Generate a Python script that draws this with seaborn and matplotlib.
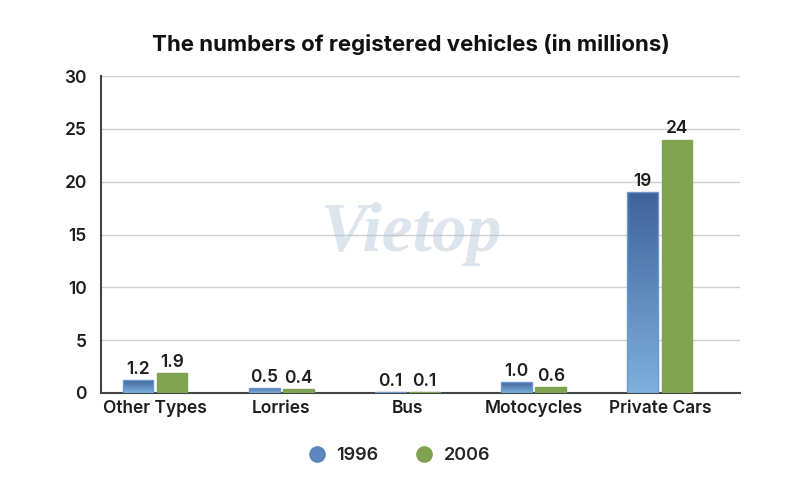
import matplotlib
matplotlib.use("Agg")
import matplotlib.pyplot as plt
import seaborn as sns
import numpy as np
import pandas as pd
from matplotlib.lines import Line2D
from matplotlib.colors import LinearSegmentedColormap

categories = ["Other Types", "Lorries", "Bus", "Motocycles", "Private Cars"]
years = ["1996", "2006"]
values_1996 = [1.2, 0.5, 0.1, 1.0, 19]
values_2006 = [1.9, 0.4, 0.1, 0.6, 24]
labels_1996 = ["1.2", "0.5", "0.1", "1.0", "19"]
labels_2006 = ["1.9", "0.4", "0.1", "0.6", "24"]
yticks = [0, 5, 10, 15, 20, 25, 30]
title = "The numbers of registered vehicles (in millions)"

df = pd.DataFrame({
    "category": categories * 2,
    "year": [years[0]] * len(categories) + [years[1]] * len(categories),
    "value": values_1996 + values_2006,
})

sns.set_theme(style="white")
plt.rcParams["font.family"] = ["Inter", "DejaVu Sans"]
W = "semibold"

blue_mid = "#5B86BE"
green = "#80A352"
fig = plt.figure(figsize=(8, 4.98), dpi=100)
ax = fig.add_axes([0.126, 0.211, 0.799, 0.636])

sns.barplot(data=df, x="category", y="value", hue="year", order=categories,
            hue_order=years, palette=[blue_mid, green], width=0.54, gap=0.1,
            ax=ax, legend=False, saturation=1)

ax.set_ylim(0, 30)
ax.set_xlim(-0.43, 4.635)
ax.set_yticks(yticks)
ax.set_yticklabels([str(t) for t in yticks], fontsize=12.5, color="#1E1E1E")
ax.tick_params(axis="x", labelsize=12.5, colors="#1E1E1E", length=0, pad=5)
ax.tick_params(axis="y", length=0, pad=10)
for lab in ax.get_xticklabels() + ax.get_yticklabels():
    lab.set_fontweight(W)
ax.set_xlabel("")
ax.set_ylabel("")
ax.yaxis.grid(True, color="#CFCFCF", linewidth=1)
ax.set_axisbelow(True)
for s in ["top", "right"]:
    ax.spines[s].set_visible(False)
for s in ["left", "bottom"]:
    ax.spines[s].set_color("#444444")
    ax.spines[s].set_linewidth(1.5)
    ax.spines[s].set_zorder(1.5)

# gradient for 1996 bars
cmap = LinearSegmentedColormap.from_list("bg", ["#7DB0DF", "#3F6399"])
grad = np.linspace(0, 1, 256).reshape(-1, 1)
patches = list(ax.patches)
n = len(categories)
bars_1996 = patches[:n]
bars_2006 = patches[n:2 * n]
for p in bars_1996:
    x0, y0 = p.get_x(), p.get_y()
    w, h = p.get_width(), p.get_height()
    p.set_facecolor("none")
    p.set_edgecolor("#6A98CF")
    p.set_linewidth(1.0)
    p.set_zorder(3)
    im = ax.imshow(grad, extent=[x0, x0 + w, y0, y0 + h], origin="lower",
                   cmap=cmap, aspect="auto", zorder=2)
    im.set_clip_path(p)
for p in bars_2006:
    p.set_edgecolor(green)
    p.set_linewidth(1.0)
    p.set_zorder(3)
ax.set_xlim(-0.43, 4.635)
ax.set_ylim(0, 30)

for bars, labs in [(bars_1996, labels_1996), (bars_2006, labels_2006)]:
    for p, lab in zip(bars, labs):
        ax.annotate(lab, (p.get_x() + p.get_width() / 2, p.get_height()),
                    xytext=(0, 1.5), textcoords="offset points",
                    ha="center", va="bottom", fontsize=12.5, fontweight=W,
                    color="#1E1E1E")

# watermark
fig.text(0.515, 0.53, "Vietop", ha="center", va="center", fontsize=50,
         fontstyle="italic", fontweight="bold", color="#A9BCD3", alpha=0.4,
         family=["Liberation Serif", "DejaVu Serif"])

fig.text(0.513, 0.91, title, ha="center", va="center", fontsize=16,
         fontweight="bold", color="#111111")

handles = [Line2D([0], [0], marker="o", linestyle="", markersize=12,
                  markerfacecolor=c, markeredgecolor="none") for c in [blue_mid, green]]
leg = fig.legend(handles, years, loc="center", bbox_to_anchor=(0.493, 0.085), ncol=2,
                 frameon=False, fontsize=13, handletextpad=0.1, columnspacing=1.5)
for t in leg.get_texts():
    t.set_fontweight(W)

fig.savefig("out.png", dpi=100)
